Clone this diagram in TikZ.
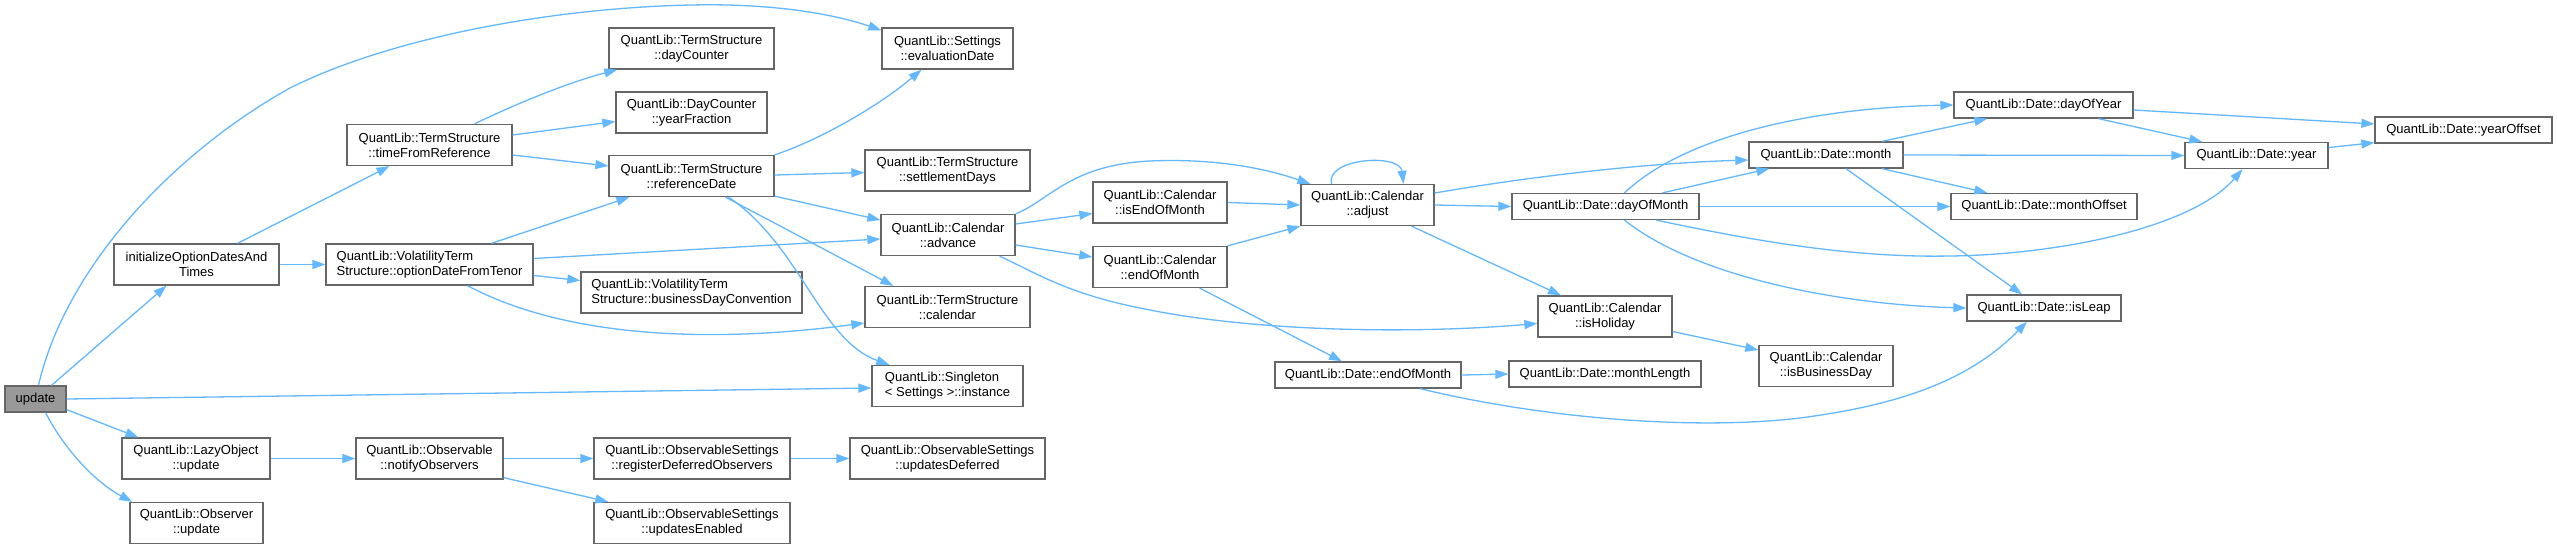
\documentclass[tikz,border=0pt]{standalone}
\usepackage{fontspec}
\setmainfont{Liberation Sans}
\usetikzlibrary{arrows.meta}
\definecolor{edgec}{HTML}{63B8FF}
\definecolor{bord}{HTML}{666666}
\definecolor{selfill}{HTML}{999999}
\begin{document}
\begin{tikzpicture}[x=1pt,y=-1pt,
 fn/.style={draw=bord, fill=white, line width=1.3pt, inner sep=0pt, align=center, font=\fontsize{13}{15}\selectfont, minimum height=41pt},
 fn1/.style={fn, minimum height=26pt},
 edge/.style={draw=edgec, line width=1.3pt, -{Triangle[length=13pt,width=9pt]}}]
\fill[white] (0,0) rectangle (2557,546);
\useasboundingbox (0,0) rectangle (2557,546);
\node[fn1, fill=selfill, minimum width=61pt] (upd) at (35.5,399) {update};
\node[fn, minimum width=165pt] (init) at (196.5,264.5) {initializeOptionDatesAnd\\Times};
\node[fn, minimum width=165pt] (tfr) at (429.5,145) {QuantLib::TermStructure\\::timeFromReference};
\node[fn, align=left, minimum width=207pt] (odft) at (429.5,264.5) {QuantLib::VolatilityTerm\\Structure::optionDateFromTenor};
\node[fn, minimum width=148pt] (lazy) at (196,458.5) {QuantLib::LazyObject\\::update};
\node[fn, minimum width=133pt] (obs) at (196.5,523) {QuantLib::Observer\\::update};
\node[fn, minimum width=147pt] (no) at (429.5,458.5) {QuantLib::Observable\\::notifyObservers};
\node[fn, minimum width=165pt] (dc) at (691.5,48.5) {QuantLib::TermStructure\\::dayCounter};
\node[fn, minimum width=151pt] (yf) at (691.5,112.5) {QuantLib::DayCounter\\::yearFraction};
\node[fn, minimum width=165pt] (rd) at (691.5,176) {QuantLib::TermStructure\\::referenceDate};
\node[fn, align=left, minimum width=221pt] (bdc) at (691.5,292.5) {QuantLib::VolatilityTerm\\Structure::businessDayConvention};
\node[fn, minimum width=196pt] (rdo) at (692,458.5) {QuantLib::ObservableSettings\\::registerDeferredObservers};
\node[fn, minimum width=196pt] (ue) at (692,523) {QuantLib::ObservableSettings\\::updatesEnabled};
\node[fn, minimum width=131pt] (eval) at (947.5,48.5) {QuantLib::Settings\\::evaluationDate};
\node[fn, minimum width=165pt] (sd) at (947.5,170.5) {QuantLib::TermStructure\\::settlementDays};
\node[fn, minimum width=134pt] (adv) at (948,235) {QuantLib::Calendar\\::advance};
\node[fn, minimum width=165pt] (cal) at (947.5,307) {QuantLib::TermStructure\\::calendar};
\node[fn, align=left, minimum width=151pt] (inst) at (947.5,386) {QuantLib::Singleton\\< Settings >::instance};
\node[fn, minimum width=195pt] (ud) at (947.5,458.5) {QuantLib::ObservableSettings\\::updatesDeferred};
\node[fn, minimum width=134pt] (ieom) at (1160,202.5) {QuantLib::Calendar\\::isEndOfMonth};
\node[fn, minimum width=134pt] (ceom) at (1160,267) {QuantLib::Calendar\\::endOfMonth};
\node[fn, minimum width=133pt] (adj) at (1367.5,205) {QuantLib::Calendar\\::adjust};
\node[fn1, minimum width=186pt] (deom) at (1368,375) {QuantLib::Date::endOfMonth};
\node[fn1, minimum width=187pt] (dom) at (1605.5,206.5) {QuantLib::Date::dayOfMonth};
\node[fn, minimum width=134pt] (hol) at (1605,316.5) {QuantLib::Calendar\\::isHoliday};
\node[fn1, minimum width=192pt] (ml) at (1605,374) {QuantLib::Date::monthLength};
\node[fn, minimum width=134pt] (bd) at (1826,366) {QuantLib::Calendar\\::isBusinessDay};
\node[fn1, minimum width=154pt] (mon) at (1826,155) {QuantLib::Date::month};
\node[fn1, minimum width=179pt] (doy) at (2043.5,105) {QuantLib::Date::dayOfYear};
\node[fn1, minimum width=186pt] (mo) at (2044,206.5) {QuantLib::Date::monthOffset};
\node[fn1, minimum width=154pt] (leap) at (2044,308) {QuantLib::Date::isLeap};
\node[fn1, minimum width=143pt] (yr) at (2256.5,155.5) {QuantLib::Date::year};
\node[fn1, minimum width=177pt] (yo) at (2463.5,130) {QuantLib::Date::yearOffset};
% edges
\draw[edge] ([xshift=3pt]upd.north) .. controls (65,270) and (170,155) .. (290,88) .. controls (390,38) and (550,8) .. (691,5) .. controls (780,3) and (840,16) .. ([yshift=-3pt]eval.north west);
\draw[edge] ([xshift=16pt]upd.north) -- ([xshift=-30pt]init.south);
\draw[edge] (upd.east) -- ([yshift=-2pt]inst.west);
\draw[edge] ([yshift=3pt]upd.south east) -- ([xshift=17pt]lazy.north west);
\draw[edge] ([xshift=10pt]upd.south) .. controls (65,450) and (95,482) .. ([xshift=3pt]obs.north west);
\draw[edge] ([xshift=41pt]init.north) -- ([xshift=-40pt]tfr.south);
\draw[edge] (init.east) -- (odft.west);
\draw[edge] ([xshift=45pt]tfr.north) .. controls (520,102) and (570,82) .. ([xshift=9pt]dc.south west);
\draw[edge] ([yshift=10pt]tfr.east) -- ([yshift=-9pt]yf.west);
\draw[edge] ([yshift=-10pt]tfr.east) -- ([yshift=10pt]rd.west);
\draw[edge] ([xshift=62pt]odft.north) -- ([xshift=21pt]rd.south west);
\draw[edge] ([yshift=6pt]odft.east) -- ([yshift=-4pt]adv.west);
\draw[edge] ([yshift=-11pt]odft.east) -- ([yshift=12pt]bdc.west);
\draw[edge] ([xshift=38pt]odft.south) .. controls (560,335) and (700,345) .. ([yshift=-16pt]cal.west);
\draw[edge] (rd.north east) .. controls (820,140) and (880,105) .. ([xshift=-26pt]eval.south);
\draw[edge] ([yshift=1pt]rd.east) -- ([yshift=-2pt]sd.west);
\draw[edge] ([yshift=1pt]rd.south east) -- ([yshift=15pt]adv.west);
\draw[edge] ([xshift=34pt]rd.south) -- ([xshift=29pt]cal.north west);
\draw[edge] ([xshift=37pt]rd.south) .. controls (800,245) and (820,340) .. ([xshift=18pt]inst.north west);
\draw[edge] ([yshift=11pt]adv.east) -- ([yshift=-11pt]ieom.west);
\draw[edge] ([yshift=-10pt]adv.east) -- ([yshift=10pt]ceom.west);
\draw[edge] (adv.north east) .. controls (1050,200) and (1070,165) .. (1150,161) .. controls (1220,158) and (1270,170) .. ([xshift=10pt]adj.north west);
\draw[edge] ([xshift=-16pt]adv.south east) .. controls (1040,275) and (1070,295) .. (1150,310) .. controls (1250,330) and (1400,335) .. ([yshift=-7pt]hol.west);
\draw[edge] (ieom.east) -- (adj.west);
\draw[edge] (ceom.north east) -- (adj.south west);
\draw[edge] ([xshift=-28pt]ceom.south east) -- ([xshift=-26pt]deom.north);
\draw[edge] ([xshift=-36pt]adj.north) .. controls (1325,158) and (1400,153) .. ([xshift=36pt]adj.north);
\draw[edge] (adj.east) -- (dom.west);
\draw[edge] ([yshift=12pt]adj.east) .. controls (1540,175) and (1650,163) .. ([yshift=-5pt]mon.west);
\draw[edge] ([xshift=44pt]adj.south) -- ([xshift=-44pt]hol.north);
\draw[edge] (deom.east) -- (ml.west);
\draw[edge] ([xshift=52pt]deom.south) .. controls (1550,420) and (1700,430) .. (1800,418) .. controls (1900,405) and (1970,380) .. ([xshift=-17pt]leap.south);
\draw[edge] ([yshift=-15pt]hol.east) -- ([yshift=16pt]bd.west);
\draw[edge] ([xshift=19pt]dom.north) .. controls (1680,140) and (1800,108) .. (doy.west);
\draw[edge] ([xshift=57pt]dom.north) -- ([xshift=21pt]mon.south west);
\draw[edge] (dom.east) -- (mo.west);
\draw[edge] ([xshift=51pt]dom.south) .. controls (1750,240) and (1850,258) .. (1950,256) .. controls (2050,255) and (2190,230) .. ([xshift=-14pt]yr.south);
\draw[edge] ([xshift=19pt]dom.south) .. controls (1700,280) and (1850,305) .. (leap.west);
\draw[edge] ([xshift=56pt]mon.north) -- ([xshift=34pt]doy.south west);
\draw[edge] (mon.east) -- (yr.west);
\draw[edge] ([xshift=56pt]mon.south) -- ([xshift=37pt]mo.north west);
\draw[edge] ([xshift=20pt]mon.south) -- ([xshift=-22pt]leap.north);
\draw[edge] ([yshift=-5pt]doy.east) -- ([yshift=6pt]yo.west);
\draw[edge] ([xshift=55pt]doy.south) -- ([xshift=18pt]yr.north west);
\draw[edge] ([yshift=8pt]yr.east) -- ([yshift=1pt]yo.south west);
\draw[edge] (no.east) -- (rdo.west);
\draw[edge] ([yshift=2pt]no.south east) -- ([xshift=15pt]ue.north west);
\draw[edge] (lazy.east) -- (no.west);
\draw[edge] (rdo.east) -- (ud.west);
\end{tikzpicture}
\end{document}
